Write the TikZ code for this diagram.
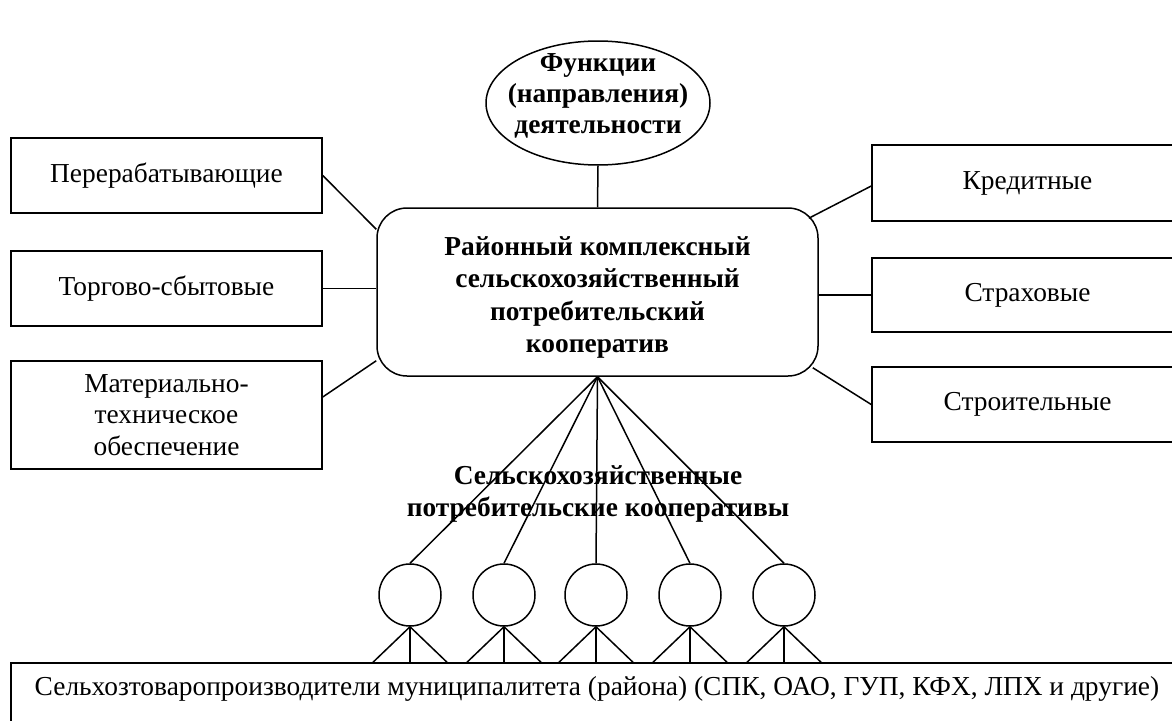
\documentclass[tikz,border=0pt]{standalone}
\usepackage{fontspec}
\setmainfont{Liberation Serif}
\usetikzlibrary{shapes.geometric,calc}
\begin{document}
\begin{tikzpicture}[x=1pt,y=-1pt,line width=1.5pt,
  txt/.style={font=\fontsize{27.4}{31.5}\selectfont},
  btxt/.style={font=\bfseries\fontsize{27.4}{32.5}\selectfont},
  box/.style={draw,rectangle,minimum width=311pt,inner sep=0pt,align=center,txt},
  coop/.style={draw,circle,minimum size=62pt,inner sep=0pt}]
\clip (0,0) rectangle (1172,720);
\fill[white] (0,0) rectangle (1172,720);
% side boxes
\node[box,minimum height=75pt] (l1) at (166.5,175.5) {Перерабатывающие};
\node[box,minimum height=75pt] (l2) at (166.5,288.5) {Торгово-сбытовые};
\node[box,minimum height=108pt] (l3) at (166.5,415) {Материально-\\техническое\\обеспечение};
\node[box,minimum height=76pt] (r1) at (1027.5,183) {Кредитные};
\node[box,minimum height=74pt] (r2) at (1027.5,295) {Страховые};
\node[box,minimum height=75pt] (r3) at (1027.5,404.5) {Строительные};
% ellipse
\node[draw,ellipse,minimum width=224pt,minimum height=124pt,inner sep=0pt,txt,font=\bfseries\fontsize{27.4}{31}\selectfont] (fn) at (598,103)
  {\makebox[0pt]{\smash{\begin{tabular}{@{}c@{}}Функции\\(направления)\\деятельности\end{tabular}}}};
% central box
\node[draw,rectangle,rounded corners=30pt,minimum width=441pt,minimum height=168pt,inner sep=0pt,btxt] (cb) at (597.5,292)
  {\makebox[0pt]{\smash{\raisebox{-11.5pt}{\begin{tabular}{@{}c@{}}Районный комплексный\\сельскохозяйственный\\потребительский\\кооператив\end{tabular}}}}};
% label of cooperatives
\node[align=center,btxt] (lbl) at (598,494) {Сельскохозяйственные\\потребительские кооперативы};
% circles
\node[coop] (c1) at (410,595) {};
\node[coop] (c2) at (504,595) {};
\node[coop] (c3) at (596,595) {};
\node[coop] (c4) at (690,595) {};
\node[coop] (c5) at (784,595) {};
% bottom box
\node[draw,rectangle,minimum width=1172pt,minimum height=59pt,inner sep=0pt] (bb) at (597,692.5) {};
\node[txt] (bbt) at (597,689) {Сельхозтоваропроизводители муниципалитета (района) (СПК, ОАО, ГУП, КФХ, ЛПХ и другие)};
% connectors
\draw (fn.south) -- (cb.north);
\draw (l1.east) -- ($(cb.north west)+(0,22)$);
\draw (l2.east) -- (l2.east -| cb.west);
\draw ($(l3.east)+(0,-18)$) -- ($(cb.south west)+(0,-16)$);
\draw ($(cb.north east)+(-10,11)$) -- ($(r1.west)+(0,3)$);
\draw (r2.west -| cb.east) -- (r2.west);
\draw ($(cb.south east)+(-6,-9)$) -- (r3.west);
\foreach \c in {c1,c2,c3,c4,c5}{
  \draw (cb.south) -- (\c.north);
  \draw (\c.south) -- ([xshift=-37pt]\c.south |- bb.north);
  \draw (\c.south) -- (\c.south |- bb.north);
  \draw (\c.south) -- ([xshift=37pt]\c.south |- bb.north);
}
\end{tikzpicture}
\end{document}
